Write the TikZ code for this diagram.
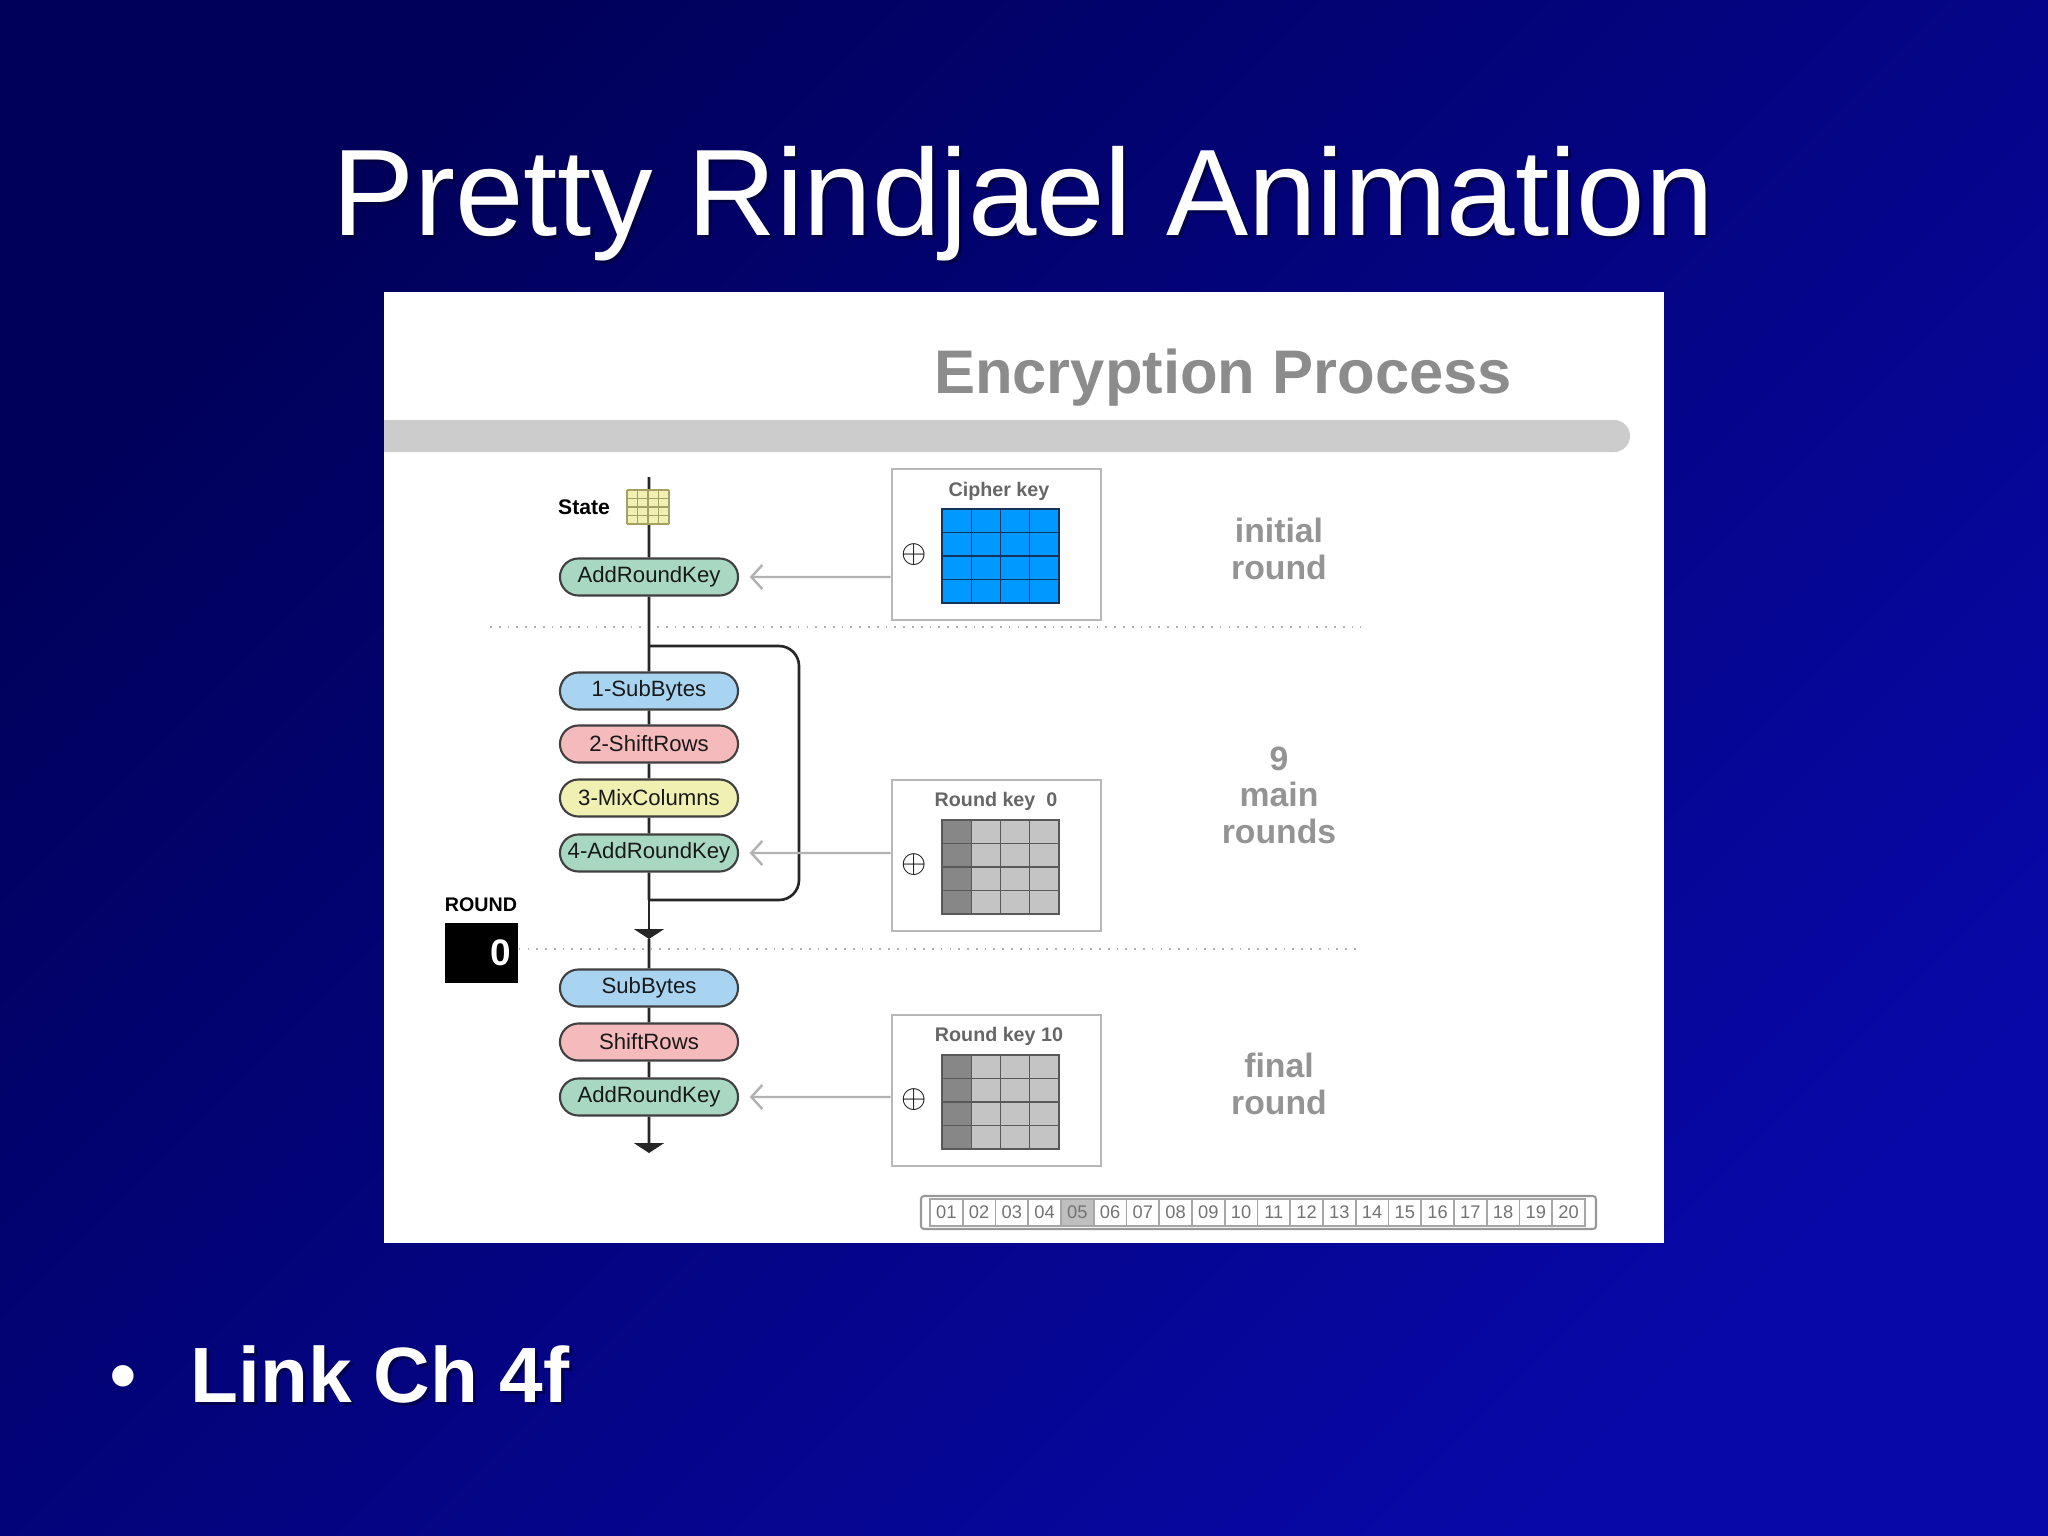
\documentclass[tikz,border=0pt]{standalone}
\usepackage{fontspec}
\setmainfont{Liberation Sans}
\usetikzlibrary{arrows.meta,positioning,shapes.misc}
\definecolor{slidedark}{RGB}{0,0,90}
\definecolor{slidelight}{RGB}{8,8,168}
\definecolor{addgreen}{RGB}{168,216,194}
\definecolor{subblue}{RGB}{168,212,242}
\definecolor{shiftpink}{RGB}{245,186,188}
\definecolor{mixyellow}{RGB}{240,240,178}
\definecolor{keyblue}{RGB}{0,153,255}
\definecolor{keyline}{RGB}{20,50,90}
\definecolor{rkdark}{RGB}{135,135,135}
\definecolor{rklight}{RGB}{196,196,196}
\definecolor{bargray}{RGB}{204,204,204}
\tikzset{
    stepbox/.style={
        rounded rectangle,
        draw=black!75,
        line width=0.6pt,
        minimum width=1.78cm,
        minimum height=0.37cm,
        inner sep=0pt,
        text=black!90,
        font=\fontsize{6.3}{7}\selectfont
    },
    % boxes that hold the keys
    keybox/.style={draw=black!28, line width=0.8pt, fill=white,
        minimum width=2.09cm, minimum height=1.51cm, inner sep=0pt},
    keylabel/.style={text=black!60, font=\bfseries\fontsize{5.6}{6}\selectfont},
    mainline/.style={line width=0.75pt, black!85},
    keyarrow/.style={line width=0.7pt, black!30,
        -{Straight Barb[length=0.11cm,width=0.24cm]}, shorten >=3pt},
    downtip/.style={mainline, -{Triangle[length=0.1cm,width=0.3cm]}},
    sepline/.style={black!30, dotted, line width=0.5pt},
    roundlabel/.style={text=black!42, align=center,
        font=\bfseries\fontsize{9.6}{10.4}\selectfont},
    slidetext/.style={text=white, anchor=base}
}

\begin{document}
\begin{tikzpicture}[x=0.01cm, y=-0.01cm]
    \useasboundingbox (0,0) rectangle (2048,1536);
    \shade[top color=slidedark, bottom color=slidelight, shading angle=45]
        (0,0) rectangle (2048,1536);

    % title and bullet
    \node[slidetext, text=black!80!blue, opacity=0.6, font=\fontsize{35}{42}\selectfont]
        at (1026,238) {Pretty Rindjael Animation};
    \node[slidetext, font=\fontsize{35}{42}\selectfont] (title) at (1023,235)
        {Pretty Rindjael Animation};
    \node[slidetext, font=\fontsize{22.5}{27}\selectfont] (bullet) at (123,1402) {•};
    \node[slidetext, anchor=base west, text=black!80!blue, opacity=0.6,
        font=\bfseries\fontsize{22.3}{27}\selectfont] at (181,1405) {Link Ch 4f};
    \node[slidetext, anchor=base west, font=\bfseries\fontsize{22.3}{27}\selectfont]
        (link) at (178,1402) {Link Ch 4f};

    % the animation panel
    \fill[white] (384,292) rectangle (1664,1243);
    \begin{scope}
        \clip (384,292) rectangle (1664,1243);
        \fill[bargray, rounded corners=0.16cm] (360,420) rectangle (1630,452);
    \end{scope}
    \node[text=black!45, font=\bfseries\fontsize{17.5}{20}\selectfont] (head)
        at (1223,378) {Encryption Process};

    \draw[sepline] (490,627) -- (1361,627);

    % flow of the state
    \coordinate (stTop) at (649,477);
    \node[stepbox, fill=addgreen] (ark0) at (649,577) {AddRoundKey};
    \coordinate (loopTop) at (649,646);
    \node[stepbox, fill=subblue] (sb1) at (649,691) {1-SubBytes};
    \node[stepbox, fill=shiftpink] (sr1) at (649,744) {2-ShiftRows};
    \node[stepbox, fill=mixyellow] (mc1) at (649,798) {3-MixColumns};
    \node[stepbox, fill=addgreen] (ark1) at (649,853) {4-AddRoundKey};
    \coordinate (loopBot) at (649,900);
    \coordinate (mark1) at (649,939);
    \node[stepbox, fill=subblue] (sb2) at (649,988) {SubBytes};
    \node[stepbox, fill=shiftpink] (sr2) at (649,1042) {ShiftRows};
    \node[stepbox, fill=addgreen] (ark2) at (649,1097) {AddRoundKey};
    \coordinate (mark2) at (649,1153);

    \draw[mainline] (stTop) -- (ark0);
    \draw[mainline] (ark0) -- (loopTop) -- (sb1) -- (sr1) -- (mc1) -- (ark1) -- (loopBot);
    \draw[mainline, rounded corners=0.2cm] (loopTop) -- (799,646) -- (799,900) -- (loopBot);
    \draw[downtip] (loopBot) -- (mark1);
    \draw[mainline] (mark1) -- (sb2) -- (sr2) -- (ark2);
    \draw[downtip] (ark2) -- (mark2);

    % state grid
    \node[font=\bfseries\fontsize{6}{7}\selectfont] (state) at (584,507) {State};
    \fill[mixyellow] (627,490) rectangle (669,524);
    \foreach \i in {0,...,4} {
        \draw[black!35!olive!60, line width=0.4pt] (627+10.5*\i,490) -- (627+10.5*\i,524);
        \draw[black!35!olive!60, line width=0.4pt] (627,490+8.5*\i) -- (669,490+8.5*\i);
    }

    % round counter
    \node[font=\bfseries\fontsize{5.6}{6}\selectfont] (roundlbl) at (481,905) {ROUND};
    \node[fill=black, text=white, minimum width=0.73cm, minimum height=0.6cm,
        text width=0.6cm, align=right, inner sep=0.05cm,
        font=\bfseries\fontsize{10.5}{11}\selectfont] (roundbox) at (481.5,953) {0};
    \draw[sepline] (roundbox.east |- 0,949) -- (1361,949);

    % key boxes
    \node[keybox] (ckey) at (996.5,544.5) {};
    \node[keybox] (rk0) at (996.5,855.5) {};
    \node[keybox] (rk10) at (996.5,1090.5) {};
    \node[keylabel] (ckeylbl) at (999,491) {Cipher key};
    \node[keylabel] (rk0lbl) at (996,801) {Round key\ \ 0};
    \node[keylabel] (rk10lbl) at (999,1036) {Round key 10};
    \foreach \c in {0,...,3}
        \foreach \r in {0,...,3}
            \draw[fill=keyblue, draw=keyline, line width=0.4pt]
                (942+29.25*\c,509+23.5*\r) rectangle ++(29.25,23.5);
    \foreach \gy in {820,1055}
        \foreach \c/\col in {0/rkdark,1/rklight,2/rklight,3/rklight}
            \foreach \r in {0,...,3}
                \draw[fill=\col, draw=black!65, line width=0.4pt]
                    (942+29.25*\c,\gy+23.5*\r) rectangle ++(29.25,23.5);
    \node[font=\fontsize{9}{10}\selectfont] (x0) at (914,555) {$\oplus$};
    \node[font=\fontsize{9}{10}\selectfont] (x1) at (914,865) {$\oplus$};
    \node[font=\fontsize{9}{10}\selectfont] (x2) at (914,1100) {$\oplus$};

    \draw[keyarrow] (ckey.west |- ark0) -- (ark0);
    \draw[keyarrow] (rk0.west |- ark1) -- (ark1);
    \draw[keyarrow] (rk10.west |- ark2) -- (ark2);

    % labels for the rounds
    \node[roundlabel] (initial) at (1279,549) {initial\\round};
    \node[roundlabel] (mainr) at (1279,795) {9\\main\\rounds};
    \node[roundlabel] (final) at (1279,1084) {final\\round};

    % step counter strip
    \draw[black!40, line width=0.6pt, rounded corners=0.03cm] (921,1196) rectangle (1596,1229);
    \foreach \lbl [count=\k] in {01,02,03,04,05,06,07,08,09,10,11,12,13,14,15,16,17,18,19,20} {
        \ifnum\k=5 \def\cellfill{black!25}\else \def\cellfill{white}\fi
        \node[draw=black!35, fill=\cellfill, line width=0.5pt, minimum width=0.3275cm,
            minimum height=0.27cm, inner sep=0pt, text=black!55,
            font=\fontsize{5.2}{6}\selectfont] (cell\k) at (930+32.75*\k-16.4,1212.5) {\lbl};
    }
\end{tikzpicture}
\end{document}
